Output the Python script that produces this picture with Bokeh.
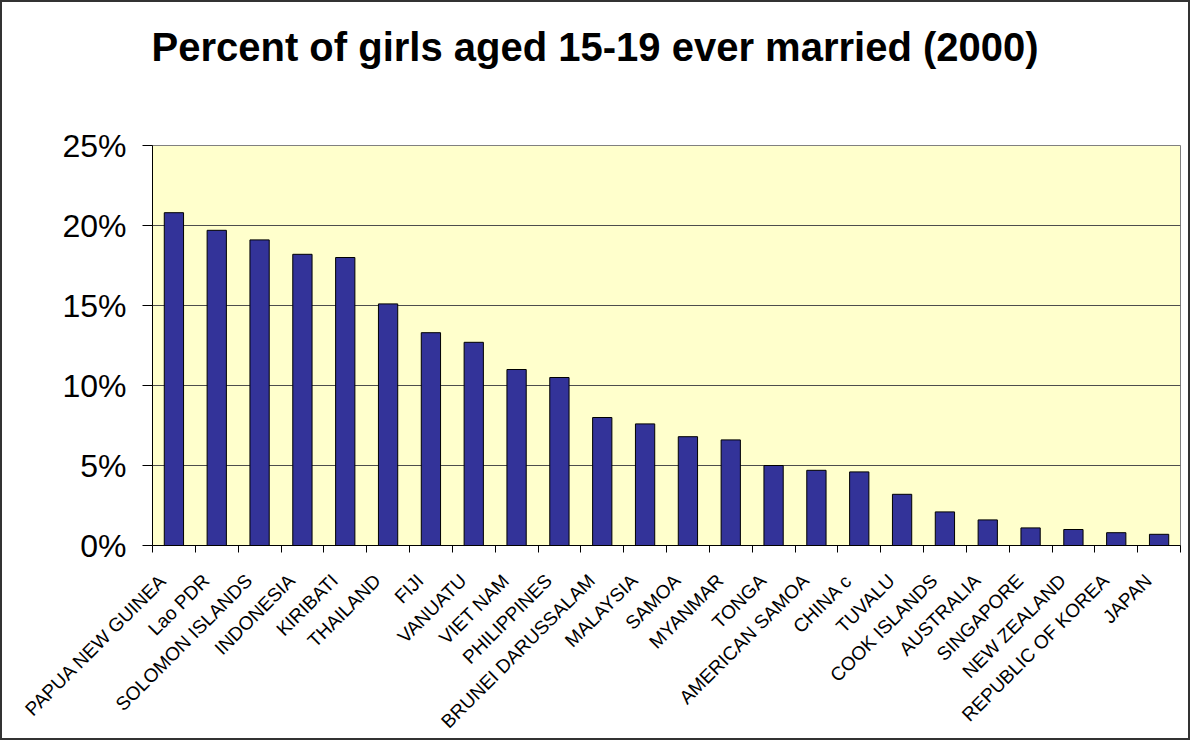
import math
from bokeh.plotting import figure
from bokeh.models import FixedTicker, PrintfTickFormatter, Range1d, ColumnDataSource, Title
from bokeh.embed import file_html
from bokeh.resources import INLINE

countries = ["PAPUA NEW GUINEA", "Lao PDR", "SOLOMON ISLANDS", "INDONESIA", "KIRIBATI",
             "THAILAND", "FIJI", "VANUATU", "VIET NAM", "PHILIPPINES",
             "BRUNEI DARUSSALAM", "MALAYSIA", "SAMOA", "MYANMAR", "TONGA",
             "AMERICAN SAMOA", "CHINA c", "TUVALU", "COOK ISLANDS", "AUSTRALIA",
             "SINGAPORE", "NEW ZEALAND", "REPUBLIC OF KOREA", "JAPAN"]
values = [20.8, 19.7, 19.1, 18.2, 18.0,
          15.1, 13.3, 12.7, 11.0, 10.5,
          8.0, 7.6, 6.8, 6.6, 5.0,
          4.7, 4.6, 3.2, 2.1, 1.6,
          1.1, 1.0, 0.8, 0.7]
y_ticks = [0, 5, 10, 15, 20, 25]
title_text = "Percent of girls aged 15-19 ever married (2000)"

n = len(countries)
centers = [i + 0.5 for i in range(n)]
label_shift = 0.25  # rotated labels end slightly left of the bar centre
label_pos = [c - label_shift for c in centers]
src = ColumnDataSource(dict(x=centers, top=values, name=countries))

FONT = "Liberation Sans"

p = figure(width=1190, height=740, output_backend="svg", toolbar_location=None,
           x_range=Range1d(0, n), y_range=Range1d(0, 25),
           min_border_left=150, min_border_right=12, min_border_top=143,
           min_border_bottom=196, title=title_text)

p.background_fill_color = "#FFFFCC"
p.border_fill_color = "white"
p.outline_line_color = "#808080"
p.outline_line_width = 1
p.styles = {"border": "2px solid #333333", "box-sizing": "border-box"}

p.title.align = "left"
p.title.offset = -1
p.title.text_font = FONT
p.title.text_font_style = "bold"
p.title.text_font_size = "40px"
p.title.text_color = "black"

# empty spacer between the title and the plot area
p.add_layout(Title(text=" ", text_font_size="10px", standoff=59), "above")

p.vbar(x="x", top="top", width=0.45, source=src, fill_color="#333399",
       line_color="black", line_width=1)

# y axis
p.yaxis.ticker = FixedTicker(ticks=y_ticks)
p.yaxis.formatter = PrintfTickFormatter(format="%d%%")
p.yaxis.major_label_text_font = FONT
p.yaxis.major_label_text_font_size = "32px"
p.yaxis.major_label_text_color = "black"
p.yaxis.major_tick_out = 10
p.yaxis.major_tick_in = 0
p.yaxis.minor_tick_line_color = None
p.yaxis.axis_line_color = "black"
p.yaxis.major_tick_line_color = "black"
p.yaxis.major_label_standoff = 16

# x axis: labels near bar centres, tick marks at category boundaries
p.xaxis.ticker = FixedTicker(ticks=label_pos, minor_ticks=list(range(n + 1)))
p.xaxis.major_label_overrides = {c: name for c, name in zip(label_pos, countries)}
p.xaxis.major_label_orientation = math.pi / 4
p.xaxis.major_label_text_font = FONT
p.xaxis.major_label_text_font_size = "19px"
p.xaxis.major_label_text_color = "black"
p.xaxis.major_tick_out = 0
p.xaxis.major_tick_in = 0
p.xaxis.minor_tick_out = 7
p.xaxis.minor_tick_in = 0
p.xaxis.minor_tick_line_color = "black"
p.xaxis.axis_line_color = "black"
p.xaxis.major_label_standoff = 25

p.xgrid.visible = False
p.ygrid.ticker = FixedTicker(ticks=y_ticks)
p.ygrid.grid_line_color = "#4d4d4d"
p.ygrid.grid_line_width = 1

open("out.html", "w").write(file_html(p, INLINE))
